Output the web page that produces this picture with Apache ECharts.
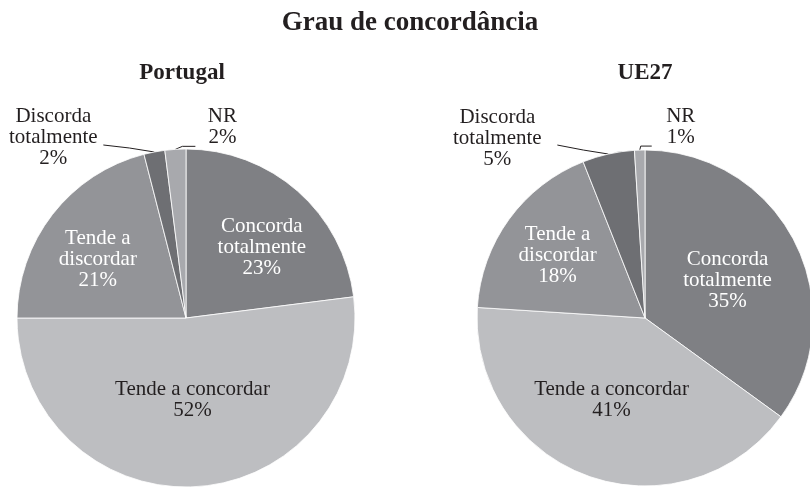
<!DOCTYPE html>
<html>
<head>
<meta charset="utf-8">
<script src="https://cdn.jsdelivr.net/npm/echarts@6/dist/echarts.min.js"></script>
<style>
  html, body { margin: 0; padding: 0; background: #fff; }
  #main { width: 810px; height: 488px; }
</style>
</head>
<body>
<div id="main"></div>
<script>
// dados (%)
var categories = ['Concorda totalmente', 'Tende a concordar', 'Tende a discordar', 'Discorda totalmente', 'NR'];
var portugal = [23, 52, 21, 2, 2];
var ue27 = [35, 41, 18, 5, 1];
var panels = ['Portugal', 'UE27'];

var colors = ['#7f8084', '#bdbec1', '#939498', '#6e6f73', '#a8a9ad'];
var textColors = ['#ffffff', '#231f20', '#ffffff', '#231f20', '#231f20'];
var wrap = {
  'Concorda totalmente': 'Concorda\ntotalmente',
  'Tende a concordar': 'Tende a concordar',
  'Tende a discordar': 'Tende a\ndiscordar',
  'Discorda totalmente': 'Discorda\ntotalmente',
  'NR': 'NR'
};
var FONT = '"Liberation Serif", "DejaVu Serif", serif';

// ajustes dos rótulos: [dx, dy] para os de dentro;
// para os de fora: label [dx, dy], cotovelo, fim da linha (relativos ao bordo da fatia)
var insideShift = [
  [[18, -5], [1, -5], [-19, -5]],
  [[5, 2], [-4, 0], [-17, -11]]
];
var outside = [
  { 3: { lab: [-101, -15], elbow: [-25, -4], end: [-51, -7] },
    4: { lab: [47, -22], elbow: [7, -3], end: [20, -3] } },
  { 3: { lab: [-111, -16], elbow: [-25, -4], end: [-51, -9] },
    4: { lab: [41, -23], elbow: [1, -4], end: [12, -4] } }
];

function makeData(values) {
  return categories.map(function (name, i) {
    var small = i >= 3;
    return {
      name: name,
      value: values[i],
      itemStyle: { color: colors[i] },
      label: {
        position: small ? 'outside' : 'inside',
        color: textColors[i]
      },
      labelLine: { show: small }
    };
  });
}

var chart = echarts.init(document.getElementById('main'), null, { renderer: 'canvas' });

var centers = [[186, 318], [645, 318]];
var radii = [169, 168];

var option = {
  animation: false,
  backgroundColor: '#ffffff',
  title: [
    {
      text: 'Grau de concordância',
      left: 405, top: 5, textAlign: 'center',
      textStyle: { fontFamily: FONT, fontSize: 27, fontWeight: 'bold', color: '#231f20' }
    },
    {
      text: panels[0],
      left: 177, top: 57, textAlign: 'center',
      textStyle: { fontFamily: FONT, fontSize: 23, fontWeight: 'bold', color: '#231f20' }
    },
    {
      text: panels[1],
      left: 640, top: 57, textAlign: 'center',
      textStyle: { fontFamily: FONT, fontSize: 23, fontWeight: 'bold', color: '#231f20' }
    }
  ],
  series: [portugal, ue27].map(function (vals, s) {
    return {
      type: 'pie',
      name: panels[s],
      center: centers[s],
      radius: [0, radii[s]],
      startAngle: 90,
      clockwise: true,
      avoidLabelOverlap: false,
      itemStyle: { borderColor: '#ffffff', borderWidth: 0.8 },
      label: {
        fontFamily: FONT,
        fontSize: 21,
        lineHeight: 21,
        align: 'center',
        formatter: function (p) { return wrap[p.name] + '\n' + p.value + '%'; }
      },
      labelLine: {
        length: 10, length2: 10,
        lineStyle: { color: '#231f20', width: 1 }
      },
      emphasis: { disabled: true },
      labelLayout: function (params) {
        var i = params.dataIndex;
        var o = outside[s][i];
        if (o && params.labelLinePoints) {
          var p0 = params.labelLinePoints[0];
          return {
            x: p0[0] + o.lab[0],
            y: p0[1] + o.lab[1],
            align: 'center',
            verticalAlign: 'middle',
            labelLinePoints: [
              [p0[0], p0[1]],
              [p0[0] + o.elbow[0], p0[1] + o.elbow[1]],
              [p0[0] + o.end[0], p0[1] + o.end[1]]
            ]
          };
        }
        var sh = insideShift[s][i];
        return sh ? { dx: sh[0], dy: sh[1] } : {};
      },
      data: makeData(vals)
    };
  })
};

chart.setOption(option);
</script>
</body>
</html>
